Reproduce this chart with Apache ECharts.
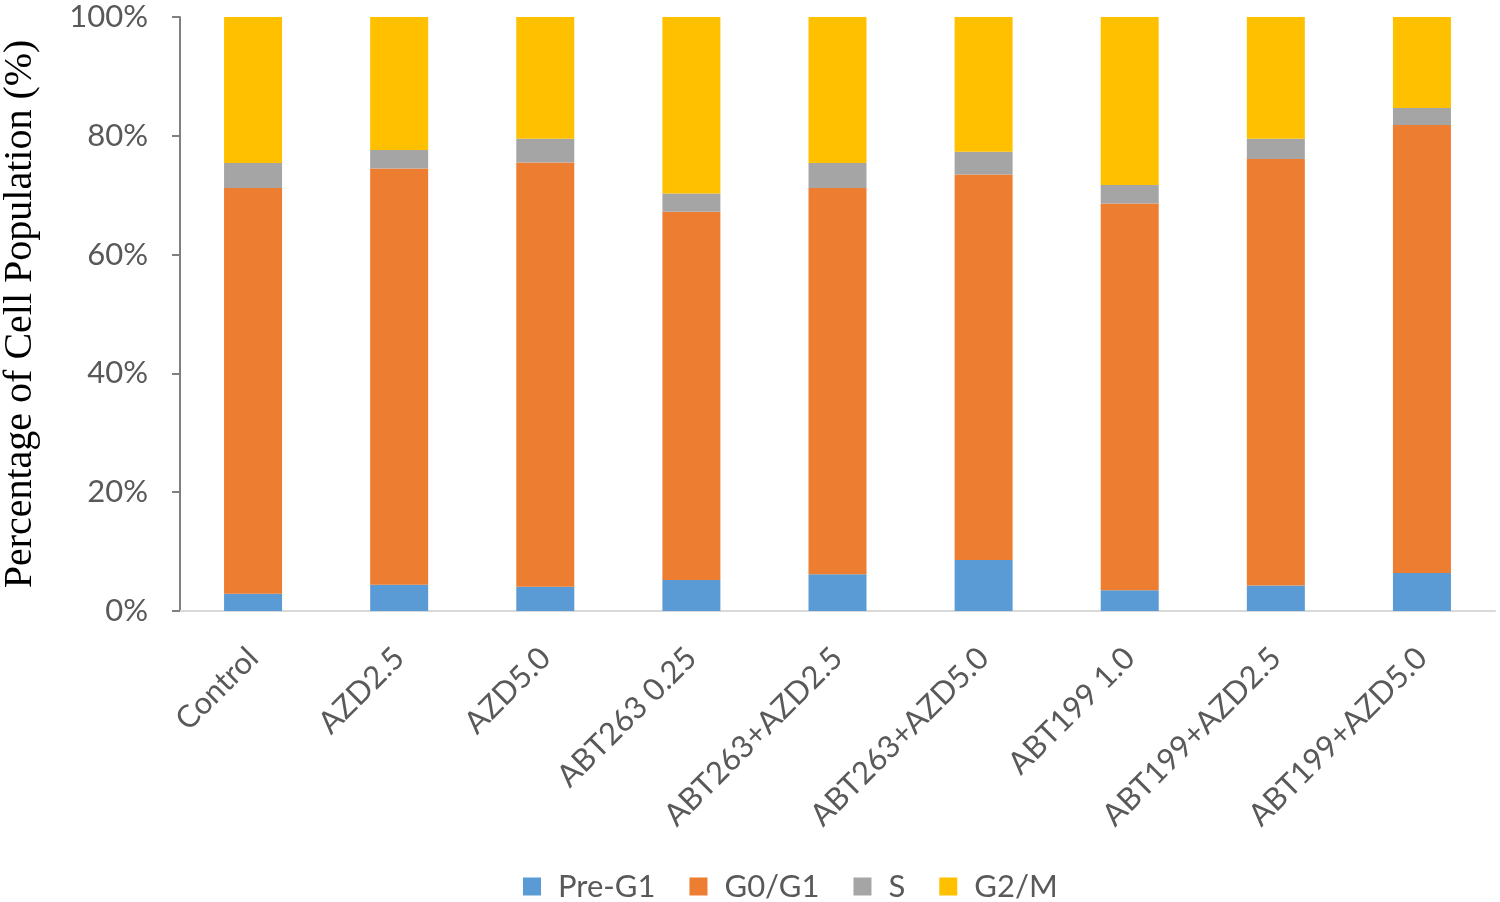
<!DOCTYPE html>
<html><head><meta charset="utf-8">
<script src="https://cdn.jsdelivr.net/npm/echarts@6/dist/echarts.min.js"></script>
<style>html,body{margin:0;padding:0;background:#fff}#c{width:1500px;height:902px}</style>
</head><body><div id="c"></div>
<script>
const categories = ['Control','AZD2.5','AZD5.0','ABT263 0.25','ABT263+AZD2.5','ABT263+AZD5.0','ABT199 1.0','ABT199+AZD2.5','ABT199+AZD5.0'];
const preG1 = [2.9, 4.4, 4.1, 5.2, 6.2, 8.6, 3.5, 4.3, 6.4];
const g0g1  = [68.3, 70.1, 71.4, 62.0, 65.0, 64.9, 65.1, 71.8, 75.4];
const sPhase = [4.2, 3.1, 4.0, 3.1, 4.2, 3.8, 3.1, 3.4, 2.9];
const g2m   = [24.6, 22.4, 20.5, 29.7, 24.6, 22.7, 28.3, 20.5, 15.3];
const yTicks = [0, 20, 40, 60, 80, 100];

const colors = ['#5B9BD5', '#ED7D31', '#A5A5A5', '#FFC000'];
const names = ['Pre-G1', 'G0/G1', 'S', 'G2/M'];
const datas = [preG1, g0g1, sPhase, g2m];

const chart = echarts.init(document.getElementById('c'), null, {renderer: 'canvas'});
chart.setOption({
  animation: false,
  color: colors,
  grid: {left: 180, right: 5, top: 17, bottom: 291, containLabel: false, outerBoundsMode: 'none'},
  legend: {
    top: 866, left: 518,
    itemWidth: 18, itemHeight: 18, itemGap: 34,
    icon: 'rect',
    textStyle: {fontFamily: 'Lato', fontSize: 31, color: '#595959', padding: [0, 0, 0, 12]},
    data: names
  },
  xAxis: {
    type: 'category', data: categories,
    axisLine: {lineStyle: {color: '#d9d9d9', width: 2}},
    axisTick: {show: false},
    axisLabel: {rotate: 45, margin: 42, fontFamily: 'Lato', fontSize: 31, color: '#595959', interval: 0}
  },
  yAxis: {
    type: 'value', min: yTicks[0], max: yTicks[yTicks.length - 1], interval: 20,
    name: 'Percentage of Cell Population (%)',
    nameLocation: 'middle', nameGap: 140, nameRotate: 90,
    nameTextStyle: {fontFamily: 'Liberation Serif', fontSize: 40, color: '#000'},
    axisLine: {show: true, lineStyle: {color: '#808080', width: 2}},
    axisTick: {show: true, inside: false, length: 8, lineStyle: {color: '#808080', width: 2}},
    splitLine: {show: false},
    axisLabel: {formatter: '{value}%', margin: 32, fontFamily: 'Lato', fontSize: 31, color: '#595959'}
  },
  series: datas.map((d, i) => ({
    name: names[i], type: 'bar', stack: 'total', data: d, barWidth: 58,
    itemStyle: {color: colors[i]}
  }))
});
</script></body></html>
